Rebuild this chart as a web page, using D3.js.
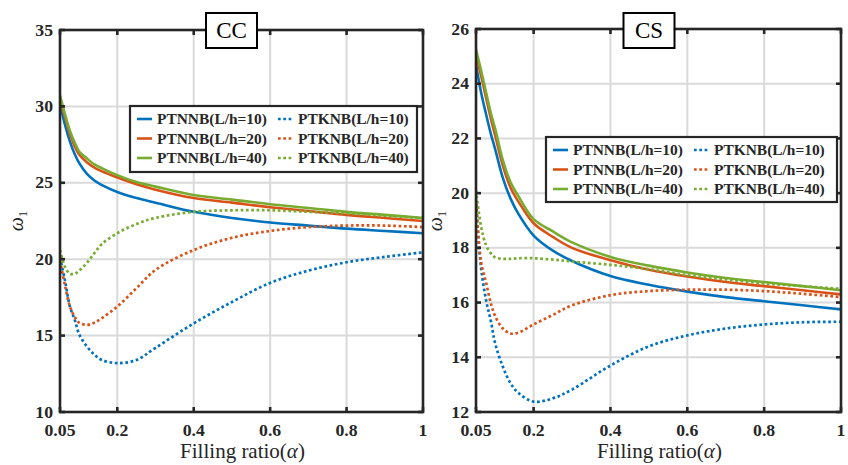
<!DOCTYPE html>
<html>
<head>
<meta charset="utf-8">
<script src="https://cdn.jsdelivr.net/npm/d3@7"></script>
<style>
  html, body { margin: 0; padding: 0; background: #fff; }
  svg { display: block; }
  svg text { font-family: 'Liberation Serif', 'Times New Roman', Times, 'DejaVu Serif', serif; }
</style>
</head>
<body>
<svg id="chart" width="848" height="465"></svg>
<script>
// filling ratio values where the curves were read
const alphas = [0.05, 0.063, 0.076, 0.089, 0.1, 0.12, 0.14, 0.16, 0.2, 0.25, 0.3, 0.4, 0.5, 0.6, 0.7, 0.8, 0.9, 1];

const xTicks = [0.05, 0.2, 0.4, 0.6, 0.8, 1];
const xTickLabels = ['0.05', '0.2', '0.4', '0.6', '0.8', '1'];

const seriesNames = ['PTNNB(L/h=10)', 'PTNNB(L/h=20)', 'PTNNB(L/h=40)',
                     'PTKNB(L/h=10)', 'PTKNB(L/h=20)', 'PTKNB(L/h=40)'];

// CC panel
const ccTicks = [10, 15, 20, 25, 30, 35];
const ccPTNNB10 = [30.2, 28.8, 27.7, 26.85, 26.3, 25.6, 25.15, 24.85, 24.4, 24.0, 23.7, 23.1, 22.7, 22.4, 22.2, 22.0, 21.85, 21.7];
const ccPTNNB20 = [30.5, 29.3, 28.2, 27.35, 26.85, 26.35, 26.0, 25.75, 25.35, 24.9, 24.55, 24.0, 23.7, 23.4, 23.15, 22.9, 22.7, 22.5];
const ccPTNNB40 = [30.7, 29.5, 28.4, 27.6, 27.05, 26.6, 26.2, 25.95, 25.5, 25.05, 24.75, 24.2, 23.9, 23.6, 23.35, 23.1, 22.9, 22.7];
const ccPTKNB10 = [20.1, 18.6, 16.9, 16.0, 15.1, 14.3, 13.75, 13.4, 13.2, 13.4, 14.2, 15.8, 17.2, 18.45, 19.25, 19.8, 20.15, 20.45];
const ccPTKNB20 = [19.9, 18.3, 16.9, 16.2, 15.85, 15.7, 15.85, 16.15, 16.9, 18.1, 19.3, 20.6, 21.4, 21.85, 22.1, 22.2, 22.2, 22.1];
const ccPTKNB40 = [20.6, 19.5, 19.05, 19.05, 19.25, 19.75, 20.4, 21.0, 21.7, 22.3, 22.7, 23.1, 23.2, 23.2, 23.1, 23.0, 22.85, 22.7];

// CS panel
const csTicks = [12, 14, 16, 18, 20, 22, 24, 26];
const csPTNNB10 = [24.7, 23.7, 22.9, 22.15, 21.6, 20.55, 19.8, 19.25, 18.45, 17.9, 17.52, 16.97, 16.65, 16.4, 16.2, 16.05, 15.9, 15.75];
const csPTNNB20 = [25.1, 24.3, 23.5, 22.7, 22.1, 21.0, 20.2, 19.7, 18.9, 18.4, 18.0, 17.55, 17.2, 16.95, 16.75, 16.6, 16.45, 16.3];
const csPTNNB40 = [25.25, 24.5, 23.7, 22.9, 22.35, 21.2, 20.4, 19.9, 19.05, 18.6, 18.2, 17.67, 17.35, 17.1, 16.9, 16.75, 16.6, 16.45];
const csPTKNB10 = [19.6, 17.3, 16.1, 15.3, 14.5, 13.65, 13.05, 12.7, 12.38, 12.5, 12.82, 13.7, 14.4, 14.8, 15.05, 15.2, 15.28, 15.3];
const csPTKNB20 = [19.8, 17.5, 16.75, 15.95, 15.5, 15.05, 14.87, 14.9, 15.2, 15.55, 15.9, 16.27, 16.42, 16.47, 16.47, 16.42, 16.32, 16.2];
const csPTKNB40 = [20.1, 18.8, 18.1, 17.8, 17.65, 17.6, 17.6, 17.62, 17.62, 17.57, 17.5, 17.38, 17.22, 17.0, 16.85, 16.7, 16.6, 16.5];

const colors = ['#0072BD', '#D95319', '#77AC30'];
const axisColor = '#262626';
const gridColor = '#dadada';

const svg = d3.select('#chart');

// size a font so that a sample string has the width seen in the picture
function fitSize(sample, width, weight) {
  const t = svg.append('text')
    .attr('font-size', 20).attr('font-weight', weight)
    .attr('x', -1000).attr('y', -1000)
    .text(sample);
  const w = t.node().getComputedTextLength();
  t.remove();
  return w > 0 ? 20 * width / w : 16;
}

const tickSize = Math.min(18, fitSize('0.05', 31, 'bold'));
const legendSize = Math.min(16, fitSize('PTNNB(L/h=10)', 110, 'bold'));
const labelSize = Math.min(21, fitSize('Filling ratio(a)', 125, 'normal'));
const titleSize = Math.min(23, fitSize('CC', 31, 'normal'));

const panels = [
  {
    id: 'cc', title: 'CC', left: 60, right: 423, top: 30, bottom: 412,
    yDomain: [10, 35], yTicks: ccTicks,
    series: [ccPTNNB10, ccPTNNB20, ccPTNNB40, ccPTKNB10, ccPTKNB20, ccPTKNB40],
    titleX: 231.5, omegaX: 18,
    legend: { x: 130, y: 106, w: 287, h: 66 }
  },
  {
    id: 'cs', title: 'CS', left: 476, right: 841, top: 29, bottom: 412,
    yDomain: [12, 26], yTicks: csTicks,
    series: [csPTNNB10, csPTNNB20, csPTNNB40, csPTKNB10, csPTKNB20, csPTKNB40],
    titleX: 649, omegaX: 437,
    legend: { x: 546, y: 137, w: 291, h: 65 }
  }
];

function drawPanel(p) {
  const x = d3.scaleLinear().domain([0.05, 1]).range([p.left, p.right]);
  const y = d3.scaleLinear().domain(p.yDomain).range([p.bottom, p.top]);
  const g = svg.append('g');

  g.append('clipPath').attr('id', 'clip-' + p.id)
    .append('rect')
    .attr('x', p.left).attr('y', p.top)
    .attr('width', p.right - p.left).attr('height', p.bottom - p.top);

  // grid
  g.append('g').selectAll('line')
    .data(xTicks.slice(1, -1))
    .join('line')
    .attr('x1', d => x(d)).attr('x2', d => x(d))
    .attr('y1', p.top).attr('y2', p.bottom)
    .attr('stroke', gridColor).attr('stroke-width', 2);
  g.append('g').selectAll('line')
    .data(p.yTicks.slice(1, -1))
    .join('line')
    .attr('y1', d => y(d)).attr('y2', d => y(d))
    .attr('x1', p.left).attr('x2', p.right)
    .attr('stroke', gridColor).attr('stroke-width', 2);

  // curves
  const line = d3.line()
    .x((d, i) => x(alphas[i]))
    .y(d => y(d))
    .curve(d3.curveCatmullRom.alpha(0.5));

  const curves = g.append('g').attr('clip-path', 'url(#clip-' + p.id + ')');
  p.series.forEach((vals, i) => {
    curves.append('path')
      .datum(vals)
      .attr('d', line)
      .attr('fill', 'none')
      .attr('stroke', colors[i % 3])
      .attr('stroke-width', i < 3 ? 2.6 : 2.7)
      .attr('stroke-dasharray', i < 3 ? null : '2.7 2.6');
  });

  // axes box
  g.append('rect')
    .attr('x', p.left).attr('y', p.top)
    .attr('width', p.right - p.left).attr('height', p.bottom - p.top)
    .attr('fill', 'none').attr('stroke', axisColor).attr('stroke-width', 2.6);

  // ticks (inside, on all four sides)
  const tl = 5;
  xTicks.forEach(t => {
    g.append('line').attr('x1', x(t)).attr('x2', x(t)).attr('y1', p.bottom).attr('y2', p.bottom - tl)
      .attr('stroke', axisColor).attr('stroke-width', 2.6);
    g.append('line').attr('x1', x(t)).attr('x2', x(t)).attr('y1', p.top).attr('y2', p.top + tl)
      .attr('stroke', axisColor).attr('stroke-width', 2.6);
  });
  p.yTicks.forEach(t => {
    g.append('line').attr('y1', y(t)).attr('y2', y(t)).attr('x1', p.left).attr('x2', p.left + tl)
      .attr('stroke', axisColor).attr('stroke-width', 2.6);
    g.append('line').attr('y1', y(t)).attr('y2', y(t)).attr('x1', p.right).attr('x2', p.right - tl)
      .attr('stroke', axisColor).attr('stroke-width', 2.6);
  });

  // tick labels
  g.append('g').selectAll('text')
    .data(xTicks)
    .join('text')
    .attr('x', d => x(d)).attr('y', p.bottom + 24)
    .attr('text-anchor', 'middle')
    .attr('font-weight', 'bold').attr('font-size', tickSize)
    .attr('fill', axisColor)
    .text((d, i) => xTickLabels[i]);
  g.append('g').selectAll('text')
    .data(p.yTicks)
    .join('text')
    .attr('x', p.left - 7).attr('y', d => y(d) + 5.5)
    .attr('text-anchor', 'end')
    .attr('font-weight', 'bold').attr('font-size', tickSize)
    .attr('fill', axisColor)
    .text(d => d);

  // axis labels
  const xl = g.append('text')
    .attr('x', (p.left + p.right) / 2 + 1).attr('y', 458)
    .attr('text-anchor', 'middle')
    .attr('font-size', labelSize)
    .attr('fill', axisColor);
  xl.append('tspan').text('Filling ratio(');
  xl.append('tspan').attr('font-style', 'italic').text('α');
  xl.append('tspan').text(')');

  const yl = g.append('text')
    .attr('transform', `translate(${p.omegaX + 5},221) rotate(-90)`)
    .attr('text-anchor', 'middle')
    .attr('font-size', 20)
    .attr('fill', axisColor);
  yl.append('tspan').attr('font-style', 'italic').text('ω');
  yl.append('tspan').attr('font-size', 13).attr('dy', 4).text('1');

  // title box
  const tb = g.append('g');
  tb.append('rect')
    .attr('x', p.titleX - 25.5).attr('y', 13)
    .attr('width', 51).attr('height', 35)
    .attr('fill', '#fff').attr('stroke', '#000').attr('stroke-width', 2);
  tb.append('text')
    .attr('x', p.titleX).attr('y', 38)
    .attr('text-anchor', 'middle')
    .attr('font-size', titleSize)
    .attr('fill', '#000')
    .text(p.title);

  // legend
  const L = p.legend;
  const lg = g.append('g');
  lg.append('rect')
    .attr('x', L.x).attr('y', L.y).attr('width', L.w).attr('height', L.h)
    .attr('fill', '#fff').attr('stroke', axisColor).attr('stroke-width', 2.2);
  const colOffset = [7, 148];
  seriesNames.forEach((name, i) => {
    const col = i < 3 ? 0 : 1;
    const row = i % 3;
    const lx = L.x + colOffset[col];
    const ly = L.y + 13 + row * 19.5;
    lg.append('line')
      .attr('x1', lx).attr('x2', lx + 15)
      .attr('y1', ly).attr('y2', ly)
      .attr('stroke', colors[row])
      .attr('stroke-width', i < 3 ? 2.6 : 2.7)
      .attr('stroke-dasharray', i < 3 ? null : '2.7 2.6');
    lg.append('text')
      .attr('x', lx + 20).attr('y', ly + 5)
      .attr('font-weight', 'bold').attr('font-size', legendSize)
      .attr('fill', axisColor)
      .text(name);
  });
}

panels.forEach(drawPanel);
</script>
</body>
</html>
